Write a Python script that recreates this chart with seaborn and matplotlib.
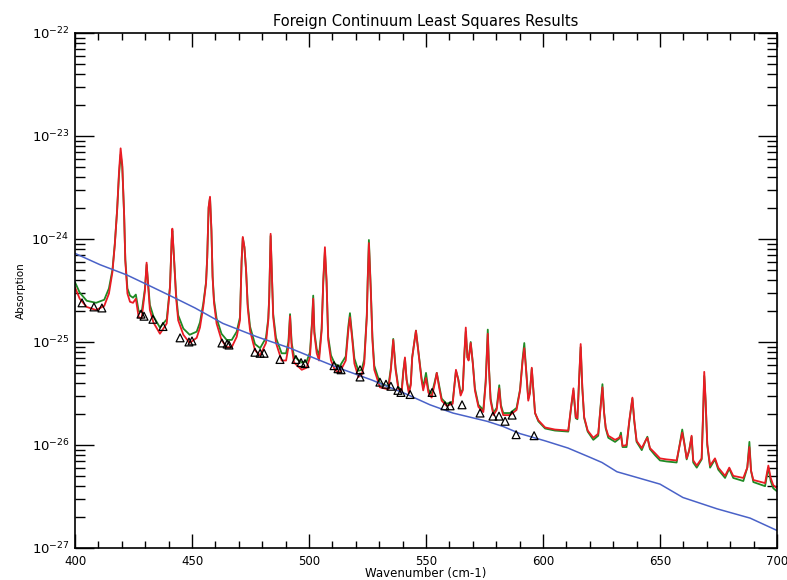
import numpy as np
import pandas as pd
import matplotlib
matplotlib.use("Agg")
import matplotlib.pyplot as plt
import seaborn as sns
from matplotlib.ticker import MultipleLocator, NullFormatter, LogLocator

# spectrum: wavenumber (cm-1) and log10 of absorption
wavenumber = [
    400.0, 402.0, 405.0, 409.0, 412.5, 414.5, 416.0, 417.0, 418.0, 418.8,
    419.5, 420.2, 421.0, 421.5, 422.4, 423.5, 424.8, 426.0, 427.2, 428.5,
    429.9, 430.6, 431.3, 432.0, 433.5, 436.3, 439.2, 440.6, 441.3, 441.6,
    442.3, 443.2, 444.1, 446.3, 449.0, 452.0, 453.4, 454.8, 456.0, 456.5,
    457.1, 457.7, 458.3, 458.8, 459.4, 460.5, 462.6, 464.8, 467.0, 469.1,
    470.5, 471.2, 471.7, 472.4, 473.1, 473.8, 474.8, 476.9, 479.1, 481.6,
    482.6, 483.0, 483.6, 484.2, 484.7, 485.9, 488.3, 490.2, 491.2, 491.9,
    492.6, 493.6, 496.9, 499.0, 500.4, 501.3, 501.8, 502.3, 503.3, 504.3,
    505.4, 506.1, 506.8, 507.5, 508.2, 509.4, 511.0, 513.0, 515.7, 516.8,
    517.5, 518.5, 519.4, 521.1, 522.5, 523.6, 524.7, 525.1, 525.6, 526.4,
    527.1, 527.9, 530.3, 533.9, 535.0, 536.0, 537.0, 538.2, 539.6, 540.3,
    541.0, 541.7, 542.7, 543.5, 544.1, 545.7, 547.0, 548.1, 548.8, 550.0,
    551.0, 552.4, 553.8, 554.6, 555.6, 556.7, 558.8, 561.4, 562.1, 562.8,
    563.8, 564.8, 565.7, 566.4, 567.0, 567.7, 568.2, 569.1, 570.0, 570.9,
    572.4, 574.5, 575.5, 576.4, 576.9, 577.6, 578.8, 580.2, 581.3, 582.0,
    583.0, 585.9, 588.7, 590.2, 591.3, 592.0, 592.7, 593.7, 594.4, 595.2,
    595.9, 596.6, 598.0, 600.9, 605.1, 610.8, 612.0, 613.0, 614.0, 614.7,
    615.4, 616.1, 616.8, 617.6, 619.1, 621.5, 623.6, 624.5, 625.4, 626.1,
    626.8, 627.9, 630.8, 632.5, 633.3, 634.0, 635.7, 636.9, 638.2, 639.0,
    640.0, 642.2, 643.8, 644.6, 645.7, 647.9, 650.0, 652.8, 657.1, 658.5,
    659.5, 660.4, 661.4, 662.5, 663.5, 664.2, 665.7, 667.8, 668.5, 668.9,
    669.5, 670.2, 671.4, 673.5, 674.9, 677.8, 679.6, 681.3, 685.6, 687.3,
    688.2, 688.9, 689.9, 694.9, 696.3, 697.3, 698.4, 700.0,
]

red_log10 = [
    -24.47, -24.58, -24.66, -24.69, -24.65, -24.53, -24.32, -24.06, -23.72, -23.35,
    -23.12, -23.28, -23.77, -24.21, -24.53, -24.61, -24.62, -24.58, -24.76, -24.77,
    -24.50, -24.23, -24.47, -24.69, -24.81, -24.92, -24.82, -24.47, -24.01, -23.90,
    -24.18, -24.57, -24.79, -24.93, -25.01, -24.96, -24.86, -24.66, -24.43, -24.18,
    -23.69, -23.59, -23.91, -24.37, -24.62, -24.82, -24.98, -25.05, -25.05, -24.95,
    -24.79, -24.21, -23.98, -24.08, -24.30, -24.66, -24.89, -25.08, -25.13, -25.01,
    -24.79, -24.57, -23.95, -24.40, -24.76, -25.01, -25.18, -25.18, -25.05, -24.75,
    -25.05, -25.20, -25.27, -25.25, -25.15, -24.82, -24.58, -24.92, -25.11, -25.18,
    -24.89, -24.40, -24.08, -24.40, -24.98, -25.18, -25.27, -25.30, -25.18, -24.89,
    -24.76, -24.98, -25.21, -25.34, -25.32, -25.21, -24.76, -24.40, -24.04, -24.50,
    -24.98, -25.27, -25.44, -25.46, -25.27, -24.98, -25.27, -25.46, -25.49, -25.30,
    -25.15, -25.37, -25.50, -25.42, -25.15, -24.89, -25.15, -25.37, -25.47, -25.35,
    -25.49, -25.54, -25.40, -25.30, -25.44, -25.57, -25.62, -25.60, -25.44, -25.27,
    -25.37, -25.52, -25.47, -25.11, -24.86, -25.15, -25.18, -25.01, -25.21, -25.47,
    -25.63, -25.68, -25.40, -24.92, -25.25, -25.57, -25.71, -25.66, -25.45, -25.63,
    -25.71, -25.71, -25.66, -25.47, -25.18, -25.06, -25.25, -25.57, -25.50, -25.25,
    -25.47, -25.69, -25.76, -25.83, -25.85, -25.86, -25.63, -25.45, -25.73, -25.74,
    -25.37, -25.02, -25.44, -25.73, -25.86, -25.93, -25.89, -25.66, -25.44, -25.69,
    -25.83, -25.91, -25.95, -25.93, -25.91, -26.01, -26.00, -25.76, -25.54, -25.76,
    -25.96, -26.03, -25.96, -25.93, -26.03, -26.08, -26.13, -26.14, -26.15, -25.99,
    -25.88, -25.99, -26.13, -26.05, -25.91, -26.15, -26.20, -26.13, -25.63, -25.29,
    -25.57, -25.99, -26.20, -26.13, -26.22, -26.30, -26.22, -26.30, -26.32, -26.22,
    -26.02, -26.25, -26.34, -26.37, -26.20, -26.32, -26.39, -26.42,
]

green_log10 = [
    -24.42, -24.52, -24.60, -24.62, -24.59, -24.48, -24.30, -24.05, -23.72, -23.38,
    -23.18, -23.30, -23.77, -24.20, -24.48, -24.55, -24.57, -24.54, -24.70, -24.71,
    -24.48, -24.25, -24.45, -24.64, -24.75, -24.86, -24.78, -24.46, -24.02, -23.92,
    -24.18, -24.54, -24.74, -24.87, -24.93, -24.90, -24.81, -24.63, -24.42, -24.18,
    -23.70, -23.60, -23.92, -24.36, -24.59, -24.77, -24.92, -24.98, -24.98, -24.90,
    -24.76, -24.22, -23.99, -24.08, -24.30, -24.63, -24.85, -25.02, -25.06, -24.96,
    -24.77, -24.56, -23.97, -24.40, -24.73, -24.96, -25.11, -25.11, -25.00, -24.73,
    -25.01, -25.14, -25.20, -25.19, -25.10, -24.80, -24.55, -24.90, -25.07, -25.13,
    -24.87, -24.42, -24.12, -24.42, -24.95, -25.13, -25.21, -25.24, -25.14, -24.85,
    -24.72, -24.95, -25.16, -25.28, -25.27, -25.17, -24.74, -24.38, -24.01, -24.48,
    -24.95, -25.23, -25.40, -25.43, -25.25, -24.97, -25.25, -25.44, -25.47, -25.28,
    -25.16, -25.36, -25.48, -25.40, -25.15, -24.89, -25.14, -25.35, -25.44, -25.30,
    -25.46, -25.51, -25.38, -25.30, -25.42, -25.55, -25.60, -25.58, -25.43, -25.28,
    -25.36, -25.50, -25.46, -25.12, -24.90, -25.15, -25.17, -25.00, -25.20, -25.45,
    -25.61, -25.66, -25.38, -24.88, -25.24, -25.55, -25.69, -25.64, -25.42, -25.61,
    -25.69, -25.69, -25.64, -25.46, -25.16, -25.01, -25.24, -25.55, -25.49, -25.26,
    -25.47, -25.69, -25.77, -25.84, -25.86, -25.87, -25.64, -25.47, -25.74, -25.75,
    -25.38, -25.05, -25.45, -25.74, -25.87, -25.95, -25.91, -25.65, -25.41, -25.68,
    -25.84, -25.93, -25.97, -25.94, -25.88, -26.02, -26.02, -25.77, -25.55, -25.77,
    -25.97, -26.05, -25.96, -25.92, -26.04, -26.10, -26.15, -26.16, -26.17, -25.98,
    -25.85, -25.98, -26.14, -26.05, -25.92, -26.17, -26.22, -26.14, -25.65, -25.33,
    -25.58, -26.00, -26.22, -26.14, -26.24, -26.32, -26.23, -26.32, -26.35, -26.22,
    -25.97, -26.25, -26.36, -26.40, -26.22, -26.35, -26.42, -26.45,
]

# foreign continuum (blue)
cont_wavenumber = [400.0, 410.7, 422.2, 433.3, 440.6, 451.3, 463.2, 477.8, 491.9, 502.6,
                   512.4, 526.9, 541.0, 551.7, 561.5, 568.8, 576.1, 582.9, 590.2, 600.9,
                   610.7, 620.1, 625.2, 631.6, 639.3, 650.0, 659.8, 674.4, 688.5, 700.0]
cont_log10 = [-24.14, -24.25, -24.35, -24.47, -24.55, -24.67, -24.82, -24.95, -25.06, -25.16,
              -25.25, -25.37, -25.50, -25.61, -25.69, -25.73, -25.77, -25.82, -25.89, -25.96,
              -26.03, -26.12, -26.17, -26.26, -26.31, -26.38, -26.51, -26.62, -26.71, -26.83]

# least squares points (triangles)
pt_wavenumber = [403.0, 408.1, 411.5, 428.2, 429.5, 433.3, 437.6, 444.9, 448.7, 450.0,
                 462.8, 465.0, 465.8, 476.9, 479.1, 480.8, 487.6, 494.4, 496.6, 498.3,
                 510.7, 512.4, 513.7, 521.8, 521.8, 530.3, 532.9, 535.0, 538.0, 539.3,
                 543.2, 552.6, 558.1, 560.3, 565.4, 573.1, 578.6, 581.2, 583.8, 586.8,
                 588.5, 596.2]
pt_log10 = [-24.62, -24.66, -24.67, -24.73, -24.75, -24.78, -24.85, -24.96, -25.00, -24.99,
            -25.01, -25.02, -25.03, -25.10, -25.11, -25.11, -25.17, -25.17, -25.20, -25.21,
            -25.23, -25.26, -25.27, -25.27, -25.34, -25.39, -25.41, -25.43, -25.47, -25.49,
            -25.51, -25.49, -25.62, -25.62, -25.61, -25.69, -25.72, -25.72, -25.77, -25.71,
            -25.90, -25.91]

y_decades = [1e-27, 1e-26, 1e-25, 1e-24, 1e-23, 1e-22]

spec = pd.DataFrame({"wavenumber": wavenumber,
                     "red": 10.0 ** np.array(red_log10),
                     "green": 10.0 ** np.array(green_log10)})
cont = pd.DataFrame({"wavenumber": cont_wavenumber, "absorption": 10.0 ** np.array(cont_log10)})
pts = pd.DataFrame({"wavenumber": pt_wavenumber, "absorption": 10.0 ** np.array(pt_log10)})

sns.set_style("ticks")
plt.rcParams["font.family"] = ["DejaVu Sans"]
plt.rcParams["text.color"] = "black"
plt.rcParams["axes.labelcolor"] = "black"
plt.rcParams["xtick.color"] = "black"
plt.rcParams["ytick.color"] = "black"

fig = plt.figure(figsize=(7.87, 5.80), dpi=100)
ax = fig.add_axes([0.0953, 0.0552, 0.892, 0.888])

sns.lineplot(data=spec, x="wavenumber", y="green", color="#1f8a24", linewidth=1.3,
             sort=False, estimator=None, ax=ax)
sns.lineplot(data=spec, x="wavenumber", y="red", color="#ea1c24", linewidth=1.3,
             sort=False, estimator=None, ax=ax)
sns.lineplot(data=cont, x="wavenumber", y="absorption", color="#4a62c8", linewidth=1.1,
             sort=False, estimator=None, ax=ax)
sns.scatterplot(data=pts, x="wavenumber", y="absorption", marker="^", s=32,
                facecolor="none", edgecolor="black", linewidth=0.9, ax=ax, zorder=5)

ax.set_yscale("log")
ax.set_xlim(400, 700)
ax.set_ylim(1e-27, 1e-22)

ax.xaxis.set_major_locator(MultipleLocator(50))
ax.xaxis.set_minor_locator(MultipleLocator(10))
ax.set_yticks(y_decades)
ax.yaxis.set_minor_locator(LogLocator(base=10, subs=np.arange(2, 10), numticks=50))
ax.yaxis.set_minor_formatter(NullFormatter())

ax.tick_params(which="both", direction="in", top=True, right=True, color="black", width=1.0)
ax.xaxis.set_tick_params(which="major", length=10, pad=5, labelsize=8.5)
ax.xaxis.set_tick_params(which="minor", length=5)
ax.yaxis.set_tick_params(which="major", length=14, pad=4, labelsize=9.5)
ax.yaxis.set_tick_params(which="minor", length=7)

for sp in ax.spines.values():
    sp.set_linewidth(1.2)
    sp.set_color("black")

ax.set_title("Foreign Continuum Least Squares Results", fontsize=10.5, pad=5)
ax.set_xlabel("Wavenumber (cm-1)", fontsize=8.5, labelpad=-1)
ax.set_ylabel("Absorption", fontsize=7.5, labelpad=4)

fig.savefig("out.png", dpi=100)
